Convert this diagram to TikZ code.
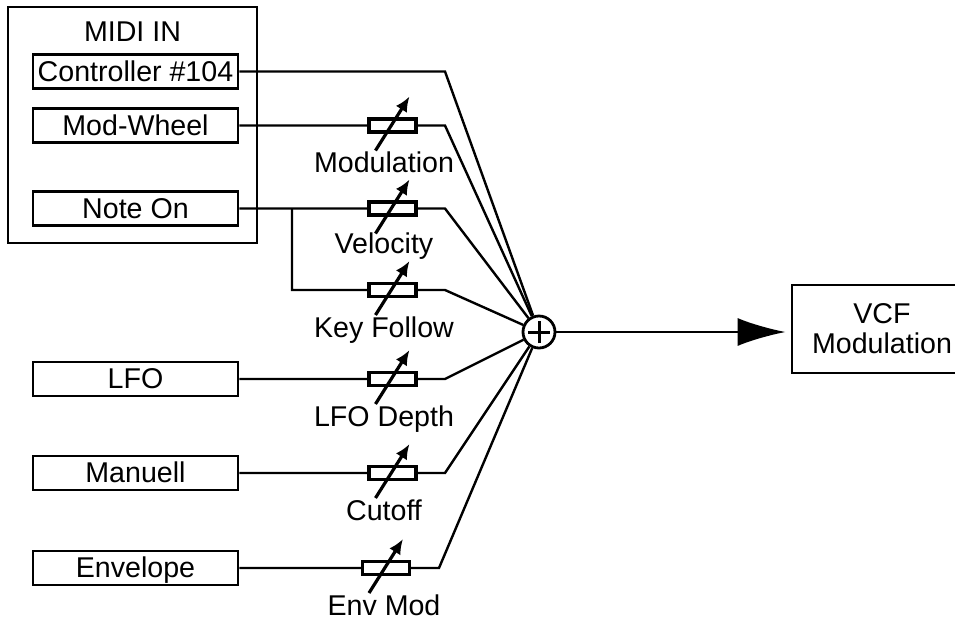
\documentclass[tikz,border=0pt]{standalone}
\usepackage{fontspec}
\setmainfont{Liberation Sans}
\usetikzlibrary{arrows.meta}
\tikzset{
  srcbox/.style={draw,line width=1.4pt,minimum width=102.5pt,minimum height=17pt,inner sep=0pt,text height=10.3pt,text depth=0.5pt},
  pot/.style={draw,fill=white,line width=1.6pt,minimum width=23.5pt,minimum height=6.5pt,inner sep=0pt},
  potarrow/.style={line width=1.6pt,-{Latex[length=7.5pt,width=6.5pt]}},
  wire/.style={line width=1.2pt},
  potlabel/.style={anchor=base}
}
\begin{document}
\begin{tikzpicture}[x=0.5pt,y=-0.5pt,>=latex,every node/.style={font=\fontsize{14.3}{15}\selectfont}]
	\useasboundingbox (0,0) rectangle (955,618);
	\draw[line width=1.4pt] (8,7) rectangle (257,243);
	\node (midiin) at (132.5,32) {MIDI IN};
	\node[srcbox] (ctrl) at (135.5,71.5) {Controller \#104};
	\node[srcbox] (modw) at (135.5,125.5) {Mod-Wheel};
	\node[srcbox] (note) at (135.5,208.5) {Note On};
	\node[srcbox] (lfo) at (135.5,379) {LFO};
	\node[srcbox] (man) at (135.5,473) {Manuell};
	\node[srcbox] (env) at (135.5,568) {Envelope};
	\node[draw,circle,line width=1.4pt,minimum size=16pt,inner sep=0pt] (sum) at (539,332) {};
	\node[draw,line width=1.4pt,minimum width=90pt,minimum height=44pt,align=center] (vcf) at (882,329) {VCF\\Modulation};
	\coordinate (split) at (292,208.5);
	\coordinate (bctrl) at (445,71.5);
	\coordinate (bmod) at (445,125.5);
	\coordinate (bvel) at (445,208.5);
	\coordinate (bkey) at (445,290);
	\coordinate (blfo) at (445,379);
	\coordinate (bman) at (445,473);
	\coordinate (benv) at (439,568);
	\node[pot] (modpot) at (392.5,125.5) {};
	\node[pot] (velpot) at (392.5,208.5) {};
	\node[pot] (keypot) at (392.5,290) {};
	\node[pot] (lfopot) at (392.5,379) {};
	\node[pot] (cutpot) at (392.5,473) {};
	\node[pot] (envpot) at (386,568) {};
	\draw[wire] (ctrl) -- (bctrl) -- (sum);
	\draw[wire] (modw) -- (modpot) -- (bmod) -- (sum);
	\draw[wire] (note) -- (velpot) -- (bvel) -- (sum);
	\draw[wire] (split) |- (keypot) -- (bkey) -- (sum);
	\draw[wire] (lfo) -- (lfopot) -- (blfo) -- (sum);
	\draw[wire] (man) -- (cutpot) -- (bman) -- (sum);
	\draw[wire] (env) -- (envpot) -- (benv) -- (sum);
	\foreach \p in {modpot,velpot,keypot,lfopot,cutpot,envpot}
		\draw[potarrow] ([shift={(-17,25)}]\p.center) -- ([shift={(17,-29)}]\p.center);
	\node[potlabel] (modlbl) at (384,172) {Modulation};
	\node[potlabel] (vellbl) at (384,253) {Velocity};
	\node[potlabel] (keylbl) at (384,337) {Key Follow};
	\node[potlabel] (lfolbl) at (384,426) {LFO Depth};
	\node[potlabel] (cutlbl) at (384,520) {Cutoff};
	\node[potlabel] (envlbl) at (384,615) {Env Mod};
	\draw[line width=1.5pt] ([xshift=-5.5pt]sum.center) -- ([xshift=5.5pt]sum.center)
		([yshift=-5.5pt]sum.center) -- ([yshift=5.5pt]sum.center);
	\draw[wire,-{Latex[length=24pt,width=14pt]},shorten >=2.5pt] (sum) -- (sum -| vcf.west);
\end{tikzpicture}
\end{document}
